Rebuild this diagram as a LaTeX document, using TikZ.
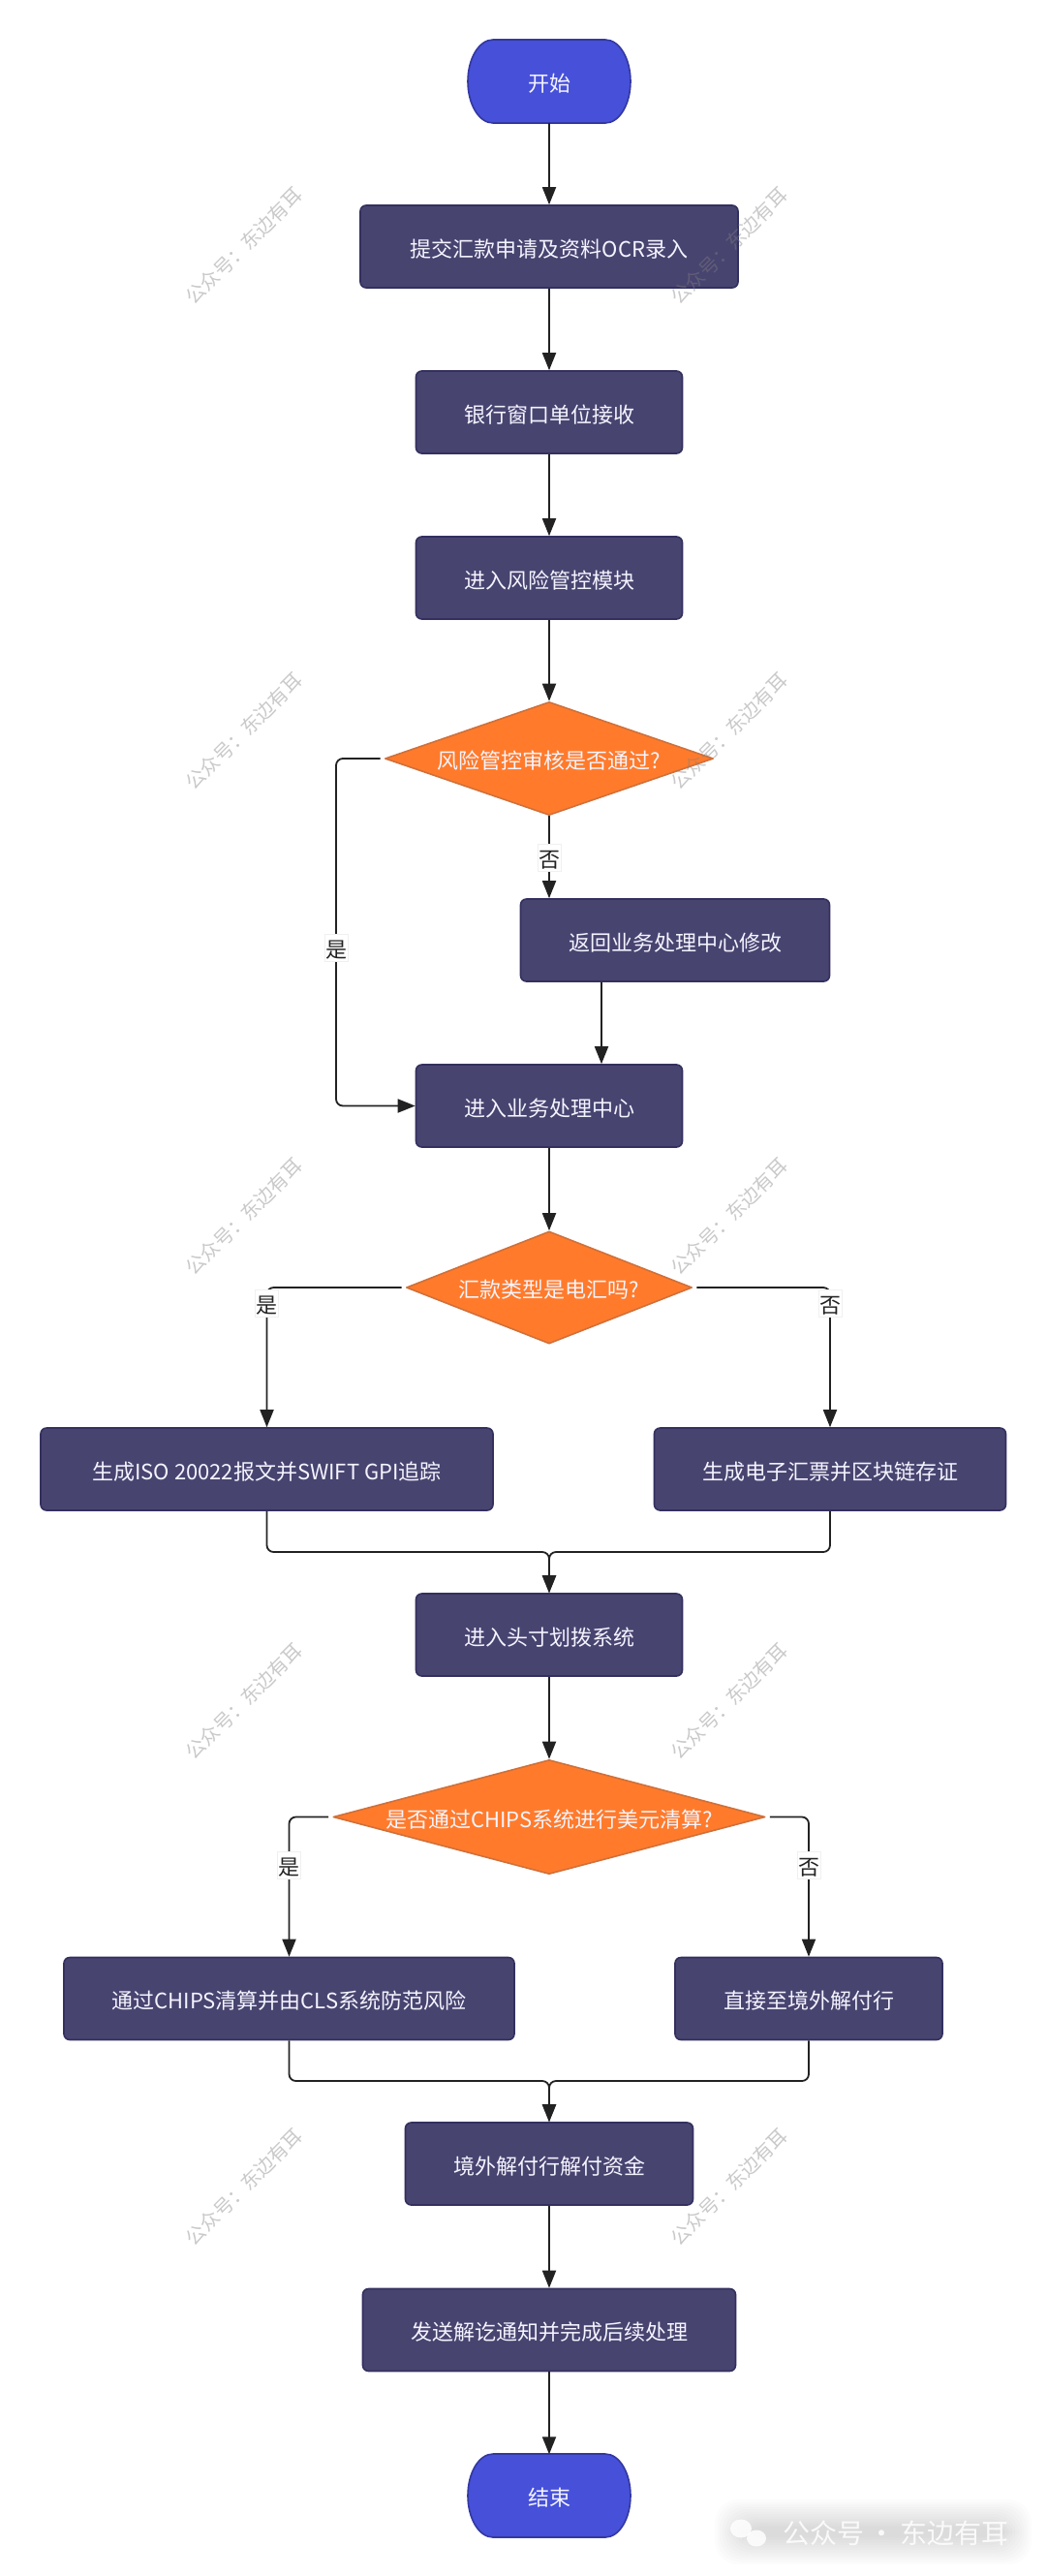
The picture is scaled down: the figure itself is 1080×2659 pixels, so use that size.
\documentclass[tikz,border=0pt]{standalone}
\usepackage{fontspec}
\setmainfont{Noto Sans CJK SC}
\usetikzlibrary{arrows.meta,shapes.geometric,calc}
\definecolor{boxfill}{HTML}{484470}
\definecolor{boxline}{HTML}{33305F}
\definecolor{termfill}{HTML}{4650D8}
\definecolor{termline}{HTML}{3338A0}
\definecolor{decfill}{HTML}{FF7B2B}
\definecolor{decline}{HTML}{D0703A}
\definecolor{wire}{HTML}{222222}
\definecolor{nodetext}{HTML}{F4F4FF}
\tikzset{
  x=1pt,y=-1pt,
  labelfont/.style={font=\fontsize{22}{26}\selectfont,text height=21pt,text depth=0pt},
  procbox/.style={draw=boxline,fill=boxfill,line width=1.6pt,rounded corners=6pt,minimum height=85pt,inner sep=0pt,text=nodetext,labelfont},
  termtext/.style={minimum height=85pt,minimum width=168pt,inner sep=0pt,text=nodetext,labelfont},
  termshape/.style={draw=termline,fill=termfill,line width=1.6pt},
  decbox/.style={shape=diamond,draw=decline,fill=decfill,line width=1.6pt,line join=round,inner sep=0pt,text=nodetext,labelfont},
  conn/.style={draw=wire,line width=1.8pt,-{Triangle[length=18pt,width=14pt,color=wire]},rounded corners=7pt},
  lab/.style={fill=white,draw=black!6,line width=.5pt,text=wire,inner sep=1pt,minimum height=28pt,labelfont},
  wmark/.style={text=gray,opacity=.42,rotate=45,font=\fontsize{20}{24}\selectfont},
  blob/.style={fill=black,opacity=.011,rounded corners=24pt},
}
% #1 top, #2 bottom of a terminator (x from 483 to 651)
\newcommand{\termpath}[2]{%
  \path[termshape] (509,#1) -- (625,#1)
    .. controls (639.4,#1) and (651,#1+19.3) .. (651,#1+43)
    .. controls (651,#1+66.7) and (639.4,#2) .. (625,#2)
    -- (509,#2)
    .. controls (494.6,#2) and (483,#1+66.7) .. (483,#1+43)
    .. controls (483,#1+19.3) and (494.6,#1) .. (509,#1) -- cycle;}
\begin{document}
\begin{tikzpicture}
\useasboundingbox (0,0) rectangle (1080,2659);
\fill[white] (0,0) rectangle (1080,2659);

% terminators
\termpath{41}{127}
\node[termtext] (start) at (567,84) {开始};
\termpath{2533}{2619}
\node[termtext] (end) at (567,2576) {结束};

% process boxes
\node[procbox,minimum width=390pt] (submit) at (567,254.5) {提交汇款申请及资料OCR录入};
\node[procbox,minimum width=275pt] (bank) at (567,425.5) {银行窗口单位接收};
\node[procbox,minimum width=275pt] (risk) at (567,596.5) {进入风险管控模块};
\node[procbox,minimum width=319pt] (ret) at (697,970.5) {返回业务处理中心修改};
\node[procbox,minimum width=275pt] (proc) at (567,1141.5) {进入业务处理中心};
\node[procbox,minimum width=467pt] (iso) at (275.5,1516.5) {生成ISO 20022报文并SWIFT GPI追踪};
\node[procbox,minimum width=363pt] (bill) at (857,1516.5) {生成电子汇票并区块链存证};
\node[procbox,minimum width=275pt] (head) at (567,1687.5) {进入头寸划拨系统};
\node[procbox,minimum width=465pt] (chips) at (298.5,2063) {通过CHIPS清算并由CLS系统防范风险};
\node[procbox,minimum width=276pt] (direct) at (835,2063) {直接至境外解付行};
\node[procbox,minimum width=297pt] (pay) at (567,2233.5) {境外解付行解付资金};
\node[procbox,minimum width=385pt] (send) at (567,2405) {发送解讫通知并完成后续处理};

% decisions
\node[decbox,aspect=2.9,minimum width=339pt,minimum height=117pt] (d1) at (567,783) {\makebox[0pt]{风险管控审核是否通过?}};
\node[decbox,aspect=2.54,minimum width=295pt,minimum height=116pt] (d2) at (567,1329) {\makebox[0pt]{汇款类型是电汇吗?}};
\node[decbox,aspect=3.78,minimum width=446pt,minimum height=118pt] (d3) at (567,1875.5) {\makebox[0pt]{是否通过CHIPS系统进行美元清算?}};

% helper coordinates
\coordinate (c1) at (347,783);
\coordinate (m1) at (567,1602);
\coordinate (m2) at (567,2148);

% connectors
\draw[conn] (start.south) -- (submit.north);
\draw[conn] (submit.south) -- (bank.north);
\draw[conn] (bank.south) -- (risk.north);
\draw[conn] (risk.south) -- (d1.north);
\draw[conn] (d1.south) -- (d1.south |- ret.north);
\draw[conn] ([xshift=-76pt]ret.south) -- ([xshift=-76pt]ret.south |- proc.north);
\draw[conn,shorten <=4pt] (d1.west) -- (c1) -- (c1 |- proc.west) -- (proc.west);
\draw[conn] (proc.south) -- (d2.north);
\draw[conn,shorten <=4pt] (d2.west) -- (d2.west -| iso.north) -- (iso.north);
\draw[conn,shorten <=4pt] (d2.east) -- (d2.east -| bill.north) -- (bill.north);
\draw[conn] (iso.south) -- (iso.south |- m1) -- (m1) -- (head.north);
\draw[conn] (bill.south) -- (bill.south |- m1) -- (m1) -- (head.north);
\draw[conn] (head.south) -- (d3.north);
\draw[conn,shorten <=4pt] (d3.west) -- (d3.west -| chips.north) -- (chips.north);
\draw[conn,shorten <=4pt] (d3.east) -- (d3.east -| direct.north) -- (direct.north);
\draw[conn] (chips.south) -- (chips.south |- m2) -- (m2) -- (pay.north);
\draw[conn] (direct.south) -- (direct.south |- m2) -- (m2) -- (pay.north);
\draw[conn] (pay.south) -- (send.north);
\draw[conn] (send.south) -- (end.north);

% edge labels
\node[lab] (l1) at (567,885) {否};
\node[lab] (l2) at (347,978) {是};
\node[lab] (l3) at (275.5,1345) {是};
\node[lab] (l4) at (857,1345) {否};
\node[lab] (l5) at (298.5,1925) {是};
\node[lab] (l6) at (835,1925) {否};

% watermarks
\foreach \yy/\id in {254/a,755/b,1256/c,1756/d,2257/e}{
  \node[wmark] (wl\id) at (252,\yy) {公众号：东边有耳};
  \node[wmark] (wr\id) at (753,\yy) {公众号：东边有耳};
}

% corner watermark
\foreach \i in {0,...,11}{
  \fill[blob] (738+\i*2.5,2580+\i*2.5) rectangle (1065-\i*2.5,2647-\i*2.5);
}
\fill[white,opacity=.85] (765,2610) ellipse (11 and 9.5);
\fill[white,opacity=.85] (781,2620) ellipse (10 and 8.5);
\node[text=white,opacity=.85,font=\fontsize{28}{32}\selectfont,inner sep=0pt] (wm) at (925,2615) {公众号\,·\,东边有耳};
\end{tikzpicture}
\end{document}
